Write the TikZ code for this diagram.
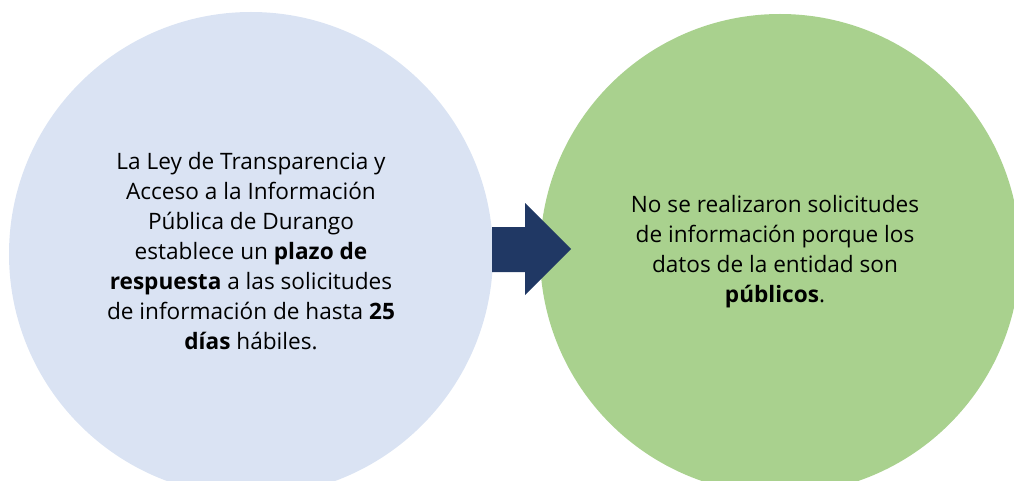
\documentclass[tikz,border=0pt]{standalone}
\usepackage{fontspec}
\setmainfont{Open Sans}
\definecolor{lblue}{HTML}{DAE3F3}
\definecolor{lgreen}{HTML}{A9D18E}
\definecolor{navy}{HTML}{203864}
\begin{document}
\begin{tikzpicture}[x=1pt,y=1pt,
  bubble/.style={circle,inner sep=0pt,minimum size=#1},
  txt/.style={align=center,font=\fontsize{22.6}{30}\selectfont,text=black}]
\useasboundingbox (0,0) rectangle (1014,480);
\clip (0,0) rectangle (1014,480);
\node[bubble=484pt,fill=lblue] (c1) at (251,226) {};
\node[bubble=480pt,fill=lgreen] (c2) at (780,226) {};
\node[txt] (t1) at (251,229) {La Ley de Transparencia y\\Acceso a la Información\\Pública de Durango\\establece un \textbf{plazo de}\\\textbf{respuesta} a las solicitudes\\de información de hasta \textbf{25}\\\textbf{días} hábiles.};
\node[txt] (t2) at (775,228) {No se realizaron solicitudes\\de información porque los\\datos de la entidad son\\\textbf{públicos}.};
\fill[navy] (492,253) -- (525,253) -- (525,277) -- (571,231) -- (525,185) -- (525,208) -- (492,208) -- cycle;
\end{tikzpicture}
\end{document}
